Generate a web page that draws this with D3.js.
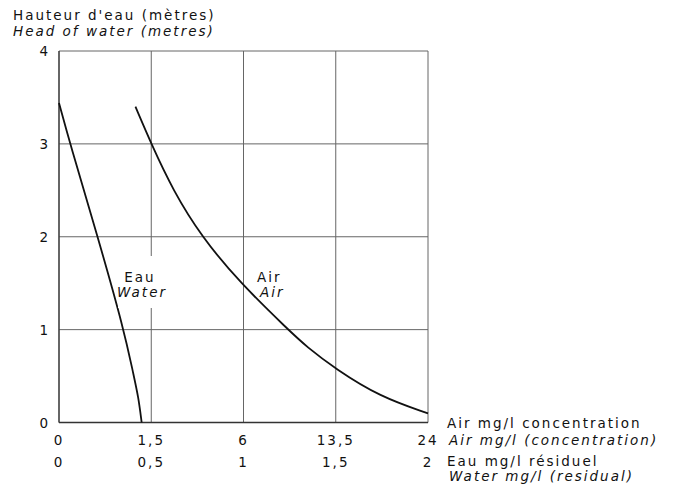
<!DOCTYPE html>
<html>
<head>
<meta charset="utf-8">
<script src="https://cdn.jsdelivr.net/npm/d3@7"></script>
<style>
  body { margin: 0; background: #fff; }
  text { font-family: "DejaVu Sans", sans-serif; font-size: 13.5px; fill: #111; letter-spacing: 2px; }
  .it { font-style: italic; }
</style>
</head>
<body>
<svg id="svg1" width="674" height="492"></svg>
<script>
var svg = d3.select("#svg1")

// head of water (m) ticks
var yTicks = [0, 1, 2, 3, 4]
// air concentration ticks (mg/l), square-root spaced
var airTicks = [0, 1.5, 6, 13.5, 24]
var airTickLabels = ["0", "1,5", "6", "13,5", "24"]
// residual water ticks (mg/l)
var waterTicks = [0, 0.5, 1, 1.5, 2]
var waterTickLabels = ["0", "0,5", "1", "1,5", "2"]

// Eau / Water curve: [mg/l residual, head m]
var waterCurve = [[0, 3.44], [0.06, 3.0], [0.21, 2.0], [0.352, 1.0], [0.402, 0.53], [0.43, 0.28], [0.448, 0]]
// Air curve: [mg/l concentration, head m]
var airCurve = [[1.03, 3.40], [1.5, 3.0], [2.29, 2.5], [3.58, 2.0], [5.8, 1.5], [9.26, 1.0], [10.8, 0.816], [13.5, 0.576], [18.14, 0.278], [24, 0.099]]

var x0 = 59, x1 = 428, y0 = 422.5, y1 = 51

var y = d3.scaleLinear().domain([0, 4]).range([y0, y1])
var xAir = d3.scalePow().exponent(0.5).domain([0, 24]).range([x0, x1])
var xWater = d3.scaleLinear().domain([0, 2]).range([x0, x1])

// grid
var grid = svg.append("g")
grid.selectAll(".h").data(yTicks).enter().append("line")
  .attr("x1", x0).attr("x2", x1)
  .attr("y1", d => y(d)).attr("y2", d => y(d))
  .attr("stroke", "#666").attr("stroke-width", 1)
grid.selectAll(".v").data(waterTicks).enter().append("line")
  .attr("x1", d => xWater(d)).attr("x2", d => xWater(d))
  .attr("y1", y1).attr("y2", y0)
  .attr("stroke", "#666").attr("stroke-width", 1)

// axes drawn slightly darker
svg.append("line").attr("x1", x0).attr("x2", x0).attr("y1", y1).attr("y2", y0)
  .attr("stroke", "#333").attr("stroke-width", 1.2)
svg.append("line").attr("x1", x0).attr("x2", x1).attr("y1", y0).attr("y2", y0)
  .attr("stroke", "#333").attr("stroke-width", 1.4)

// y tick labels
svg.selectAll(".yl").data(yTicks).enter().append("text")
  .attr("x", x0 - 9).attr("y", d => y(d) + 5)
  .attr("text-anchor", "end").text(d => d)

// air tick labels
svg.selectAll(".al").data(airTicks).enter().append("text")
  .attr("x", d => xAir(d)).attr("y", 445)
  .attr("text-anchor", "middle").text((d, i) => airTickLabels[i])

// water tick labels
svg.selectAll(".wl").data(waterTicks).enter().append("text")
  .attr("x", d => xWater(d)).attr("y", 466.5)
  .attr("text-anchor", "middle").text((d, i) => waterTickLabels[i])

// curves
var lineWater = d3.line().x(d => xWater(d[0])).y(d => y(d[1])).curve(d3.curveBasis)
var lineAir = d3.line().x(d => xAir(d[0])).y(d => y(d[1])).curve(d3.curveBasis)
svg.append("path").datum(waterCurve).attr("d", lineWater)
  .attr("fill", "none").attr("stroke", "#111").attr("stroke-width", 1.8)
svg.append("path").datum(airCurve).attr("d", lineAir)
  .attr("fill", "none").attr("stroke", "#111").attr("stroke-width", 1.8)

// curve labels (gridline broken behind Eau/Water)
svg.append("rect").attr("x", 118).attr("y", 256).attr("width", 50).attr("height", 52).attr("fill", "#fff")
svg.append("text").attr("x", 140).attr("y", 282).attr("text-anchor", "middle").text("Eau")
svg.append("text").attr("class", "it").attr("x", 142).attr("y", 297).attr("text-anchor", "middle").text("Water")
svg.append("text").attr("x", 257).attr("y", 282).text("Air")
svg.append("text").attr("class", "it").attr("x", 260).attr("y", 297).text("Air")

// titles
svg.append("text").attr("x", 13).attr("y", 20).text("Hauteur d'eau (mètres)")
svg.append("text").attr("class", "it").attr("x", 13).attr("y", 36).text("Head of water (metres)")

svg.append("text").attr("x", 447).attr("y", 428).text("Air mg/l concentration")
svg.append("text").attr("class", "it").attr("x", 449).attr("y", 445).text("Air mg/l (concentration)")
svg.append("text").attr("x", 447).attr("y", 466).text("Eau mg/l résiduel")
svg.append("text").attr("class", "it").attr("x", 449).attr("y", 481).text("Water mg/l (residual)")
</script>
</body>
</html>
